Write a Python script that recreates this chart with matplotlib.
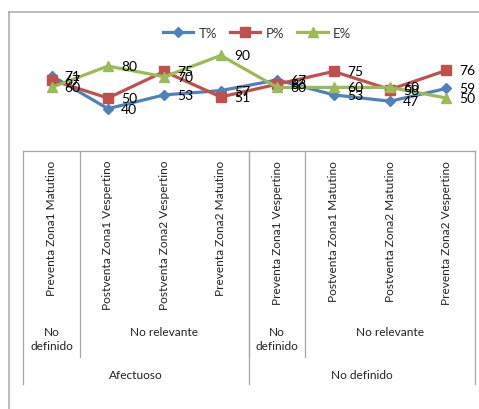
import matplotlib.pyplot as plt
from matplotlib.lines import Line2D
from matplotlib.transforms import blended_transform_factory

plt.rcParams["font.family"] = ["Lato", "DejaVu Sans"]

# =========================
# Data
# =========================
categories = [
    "Preventa Zona1 Matutino",
    "Postventa Zona1 Vespertino",
    "Postventa Zona2 Vespertino",
    "Preventa Zona2 Matutino",
    "Preventa Zona1 Vespertino",
    "Postventa Zona1 Matutino",
    "Postventa Zona2 Matutino",
    "Preventa Zona2 Vespertino",
]
# second level: (label, first index, last index)
level2 = [
    ("No\ndefinido", 0, 0),
    ("No relevante", 1, 3),
    ("No\ndefinido", 4, 4),
    ("No relevante", 5, 7),
]
# third level
level3 = [
    ("Afectuoso", 0, 3),
    ("No definido", 4, 7),
]

t_pct = [71, 40, 53, 57, 67, 53, 47, 59]
p_pct = [67, 50, 75, 51, 63, 75, 58, 76]
e_pct = [60, 80, 70, 90, 60, 60, 60, 50]

series = [
    ("T%", t_pct, "#4F81BD", "D", 5.5),
    ("P%", p_pct, "#C0504D", "s", 6.5),
    ("E%", e_pct, "#9BBB59", "^", 7.5),
]

# =========================
# Figure
# =========================
W, H = 479, 410
fig = plt.figure(figsize=(W / 100, H / 100), dpi=100)
ax = fig.add_axes([23.3 / W, 1 - 152.3 / H, 451.4 / W, 106.5 / H])


def fy(py):
    return 1 - py / H


x = list(range(len(categories)))
for name, vals, color, marker, ms in series:
    ax.plot(x, vals, color=color, lw=2.3, marker=marker, markersize=ms,
            label=name, clip_on=False)

for name, vals, color, marker, ms in series:
    for xi, v in zip(x, vals):
        ax.annotate(str(v), (xi, v), xytext=(9.5, 0), textcoords="offset points",
                    ha="left", va="center", fontsize=10, color="black")

ax.set_xlim(-0.5, len(categories) - 0.5)
ax.set_ylim(0, 100)
ax.set_xticks([])
ax.set_yticks([])
for side in ["top", "left", "right"]:
    ax.spines[side].set_visible(False)
ax.spines["bottom"].set_color("#a6a6a6")
ax.spines["bottom"].set_linewidth(0.9)

# multi-level category axis
tr = blended_transform_factory(ax.transData, fig.transFigure)
line_kw = dict(color="#a6a6a6", lw=0.9, transform=tr, clip_on=False)

for i, cat in enumerate(categories):
    ax.text(i, fy(161), cat, rotation=90, ha="center", va="top",
            fontsize=8.6, color="#222222", transform=tr)

for label, a, b in level2:
    ax.text((a + b) / 2, fy(327), label, ha="center", va="top",
            fontsize=8.6, color="#222222", transform=tr, linespacing=1.35)
    if a > 0:
        ax.plot([a - 0.5, a - 0.5], [fy(152.3), fy(358)], **line_kw)

for label, a, b in level3:
    ax.text((a + b) / 2, fy(376), label, ha="center", va="center",
            fontsize=8.6, color="#222222", transform=tr)
    ax.plot([a - 0.5, a - 0.5], [fy(152.3), fy(385)], **line_kw)
ax.plot([len(categories) - 0.5] * 2, [fy(152.3), fy(385)], **line_kw)

# chart border (left and top edges)
fig.add_artist(Line2D([9 / W, 9 / W], [0, fy(13)], color="#b0b0b0", lw=1.2))
fig.add_artist(Line2D([9 / W, 1], [fy(13), fy(13)], color="#b0b0b0", lw=1.2))

fig.legend(loc="center", bbox_to_anchor=(257 / W, fy(34)), ncol=3,
           frameon=False, fontsize=9.5, handlelength=2.3, columnspacing=1.0,
           handletextpad=0.4, labelcolor="#333333")

fig.savefig("out.png", dpi=100)
